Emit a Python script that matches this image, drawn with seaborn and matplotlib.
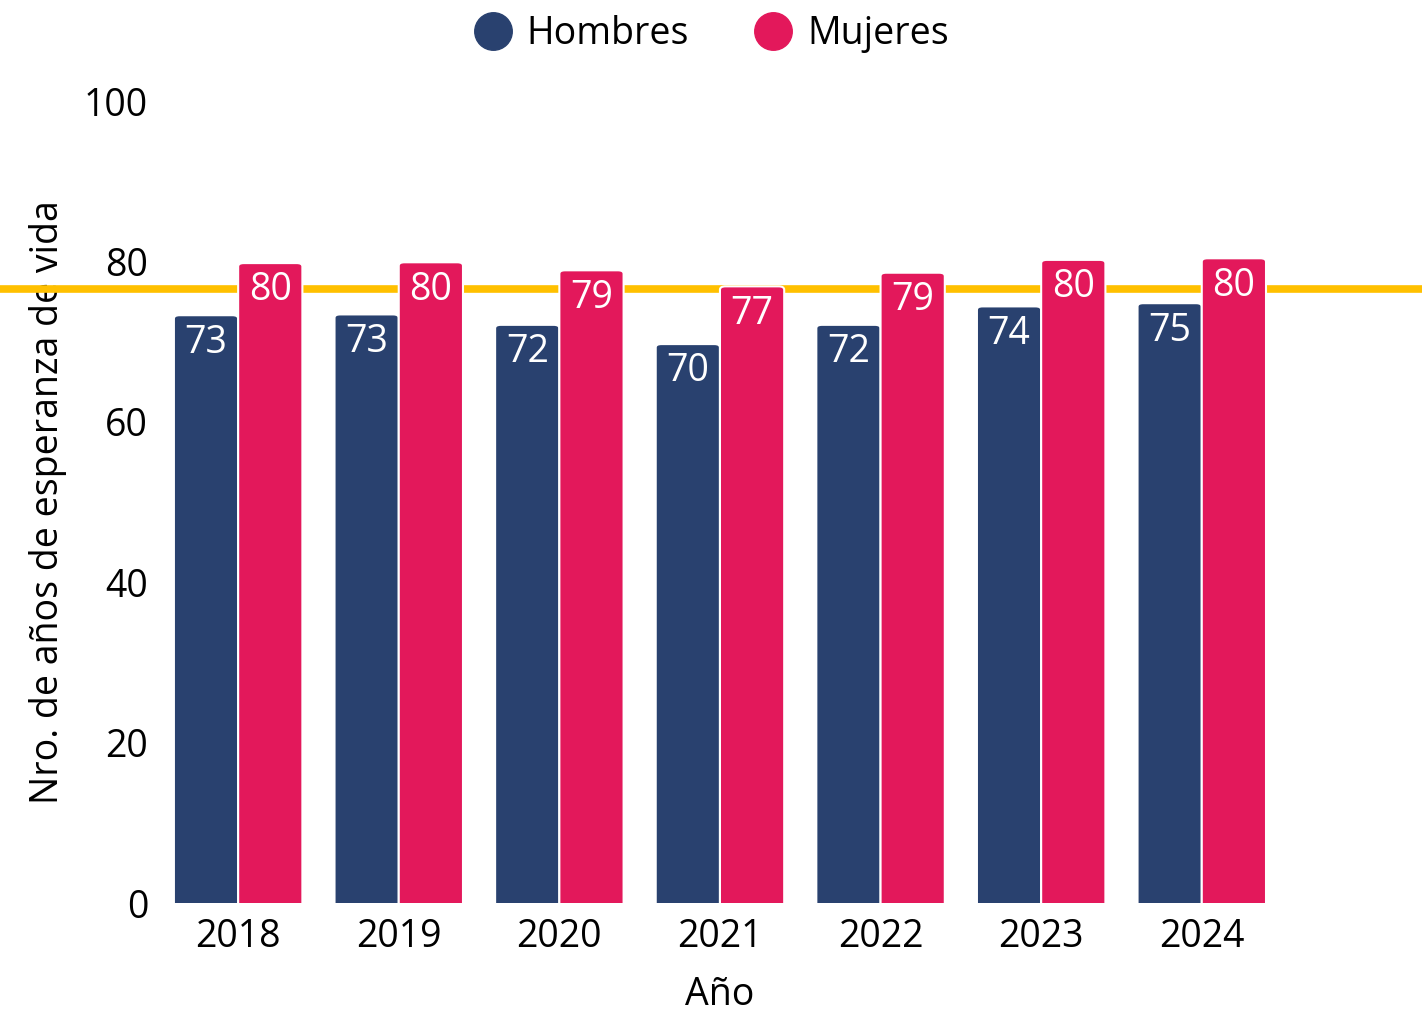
import pandas as pd
import matplotlib.pyplot as plt
import matplotlib.transforms as mtransforms
from matplotlib.lines import Line2D
from matplotlib.patches import FancyBboxPatch
import seaborn as sns

# datos
years = ["2018", "2019", "2020", "2021", "2022", "2023", "2024"]
hombres = [73.3, 73.4, 72.1, 69.7, 72.1, 74.4, 74.8]
mujeres = [79.8, 79.9, 78.9, 76.9, 78.6, 80.2, 80.4]
series = ["Hombres", "Mujeres"]
colors = ["#29416F", "#E3185B"]
ref_line = 76.6
line_color = "#FFC000"

df = pd.DataFrame({
    "year": years * 2,
    "sexo": ["Hombres"] * len(years) + ["Mujeres"] * len(years),
    "valor": hombres + mujeres,
})

sns.set_theme(style="white")
plt.rcParams["font.family"] = ["Open Sans", "DejaVu Sans"]
plt.rcParams["text.color"] = "black"

fig = plt.figure(figsize=(14.22, 10.11), dpi=100)
ax = fig.add_axes([0.111, 0.1068, 0.7906, 0.7932])

sns.barplot(data=df, x="year", y="valor", hue="sexo", hue_order=series,
            palette=colors, saturation=1, width=0.8, edgecolor="white",
            linewidth=1.5, errorbar=None, legend=False, ax=ax)

# esquinas superiores redondeadas (la parte inferior queda recortada en y=0)
for bar in list(ax.patches):
    x, w, h = bar.get_x(), bar.get_width(), bar.get_height()
    rounded = FancyBboxPatch((x, -2), w, h + 2,
                             boxstyle="round,pad=0,rounding_size=0.035",
                             mutation_aspect=12,
                             facecolor=bar.get_facecolor(), edgecolor="white",
                             linewidth=1.5, zorder=3)
    ax.add_patch(rounded)
    bar.set_visible(False)
    ax.annotate(f"{h:.0f}", xy=(x + w / 2, h), xytext=(0, -6),
                textcoords="offset points", ha="center", va="top",
                color="white", fontsize=27, zorder=5)

# línea de referencia a todo el ancho de la figura: sobre la etiqueta del eje, bajo las barras
trans = mtransforms.blended_transform_factory(fig.transFigure, ax.transData)
ax.plot([0, 1], [ref_line, ref_line], transform=trans, color=line_color,
        linewidth=5.5, clip_on=False, zorder=2)

ax.set_ylim(0, 100)
ax.set_xlim(-0.5, len(years) - 0.5)
ax.set_yticks([0, 20, 40, 60, 80, 100])
ax.tick_params(axis="both", length=0, labelsize=27, colors="black")
ax.tick_params(axis="y", pad=7)
ax.tick_params(axis="x", pad=11)
ax.set_xlabel("Año", fontsize=27, color="black", labelpad=14)
ax.set_ylabel("Nro. de años de esperanza de vida", fontsize=27, color="black", labelpad=12)
sns.despine(ax=ax, left=True, bottom=True)

handles = [Line2D([], [], marker="o", linestyle="", markersize=27,
                  markerfacecolor=c, markeredgecolor=c) for c in colors]
leg = fig.legend(handles, series, loc="upper center", bbox_to_anchor=(0.4937, 1.0),
                 ncol=2, frameon=False, fontsize=27, handletextpad=-0.1,
                 columnspacing=1.25, borderaxespad=0.0)
for t in leg.get_texts():
    t.set_color("black")

plt.savefig("out.png", dpi=100)
plt.close()
